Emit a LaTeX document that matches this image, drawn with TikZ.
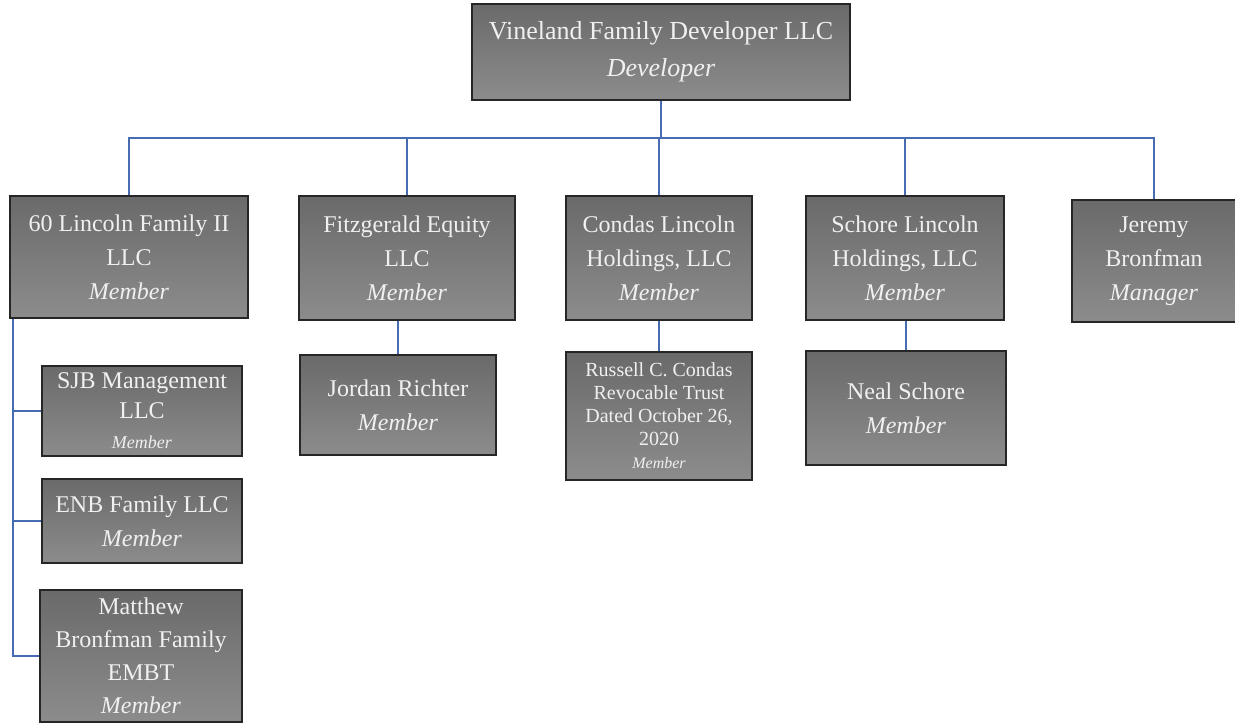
\documentclass[tikz,border=0pt]{standalone}
\usepackage{fontspec}
\setmainfont{Liberation Serif}

\definecolor{boxtop}{RGB}{106,106,106}
\definecolor{boxbottom}{RGB}{140,140,140}
\definecolor{linkblue}{RGB}{72,108,180}

\begin{document}
\begin{tikzpicture}[x=0.5pt,y=-0.5pt,
		every node/.style={draw=black!85,line width=0.7pt,top color=boxtop,bottom color=boxbottom,
			text=white!94!black,align=center,inner sep=2pt,font=\fontsize{12}{17}\selectfont},
		boxsize/.style 2 args={minimum width=#1*0.5pt,minimum height=#2*0.5pt},
		small/.style={font=\fontsize{10}{11.5}\selectfont},
		link/.style={draw=linkblue,line width=1pt},
	]
	\useasboundingbox (0,0) rectangle (1235,725);
	% top
	\node[boxsize={378}{96},font=\fontsize{13}{18.5}\selectfont] (top) at (661,52)
		{Vineland Family Developer LLC\\\textit{Developer}};
	% members
	\node[boxsize={238}{122}] (lincoln) at (129,257) {60 Lincoln Family II\\LLC\\\textit{Member}};
	\node[boxsize={216}{124}] (fitz) at (407,258) {Fitzgerald Equity\\LLC\\\textit{Member}};
	\node[boxsize={186}{124}] (condas) at (659,258) {Condas Lincoln\\Holdings, LLC\\\textit{Member}};
	\node[boxsize={198}{124}] (schore) at (905,258) {Schore Lincoln\\Holdings, LLC\\\textit{Member}};
	\node[boxsize={164}{122}] (jeremy) at (1154,261) {Jeremy\\Bronfman\\\textit{Manager}};
	% second level
	\node[boxsize={200}{90},font=\fontsize{12}{15}\selectfont] (sjb) at (142,411)
		{SJB Management\\LLC\\{\fontsize{9}{10}\selectfont\textit{Member}}};
	\node[boxsize={200}{84}] (enb) at (142,521) {ENB Family LLC\\\textit{Member}};
	\node[boxsize={202}{132},font=\fontsize{12}{16.5}\selectfont] (matthew) at (141,656)
		{Matthew\\Bronfman Family\\EMBT\\\textit{Member}};
	\node[boxsize={196}{100}] (jordan) at (398,405) {Jordan Richter\\\textit{Member}};
	\node[boxsize={186}{128},small] (russell) at (659,416)
		{Russell C. Condas\\Revocable Trust\\Dated October 26,\\2020\\{\fontsize{8}{9}\selectfont\textit{Member}}};
	\node[boxsize={200}{114}] (neal) at (906,408) {Neal Schore\\\textit{Member}};
	% connectors
	\path (top.south) ++(0,37) coordinate (bus);
	\draw[link] (top.south) -- (bus);
	\foreach \n in {lincoln,fitz,condas,schore,jeremy}
		\draw[link] (bus) -| (\n.north);
	\coordinate (trunk) at ([xshift=2pt]lincoln.south west);
	\foreach \n in {sjb,enb,matthew}
		\draw[link] (trunk) |- (\n.west);
	\draw[link] (fitz.south -| jordan.north) -- (jordan.north);
	\draw[link] (condas.south -| russell.north) -- (russell.north);
	\draw[link] (schore.south -| neal.north) -- (neal.north);
\end{tikzpicture}
\end{document}
